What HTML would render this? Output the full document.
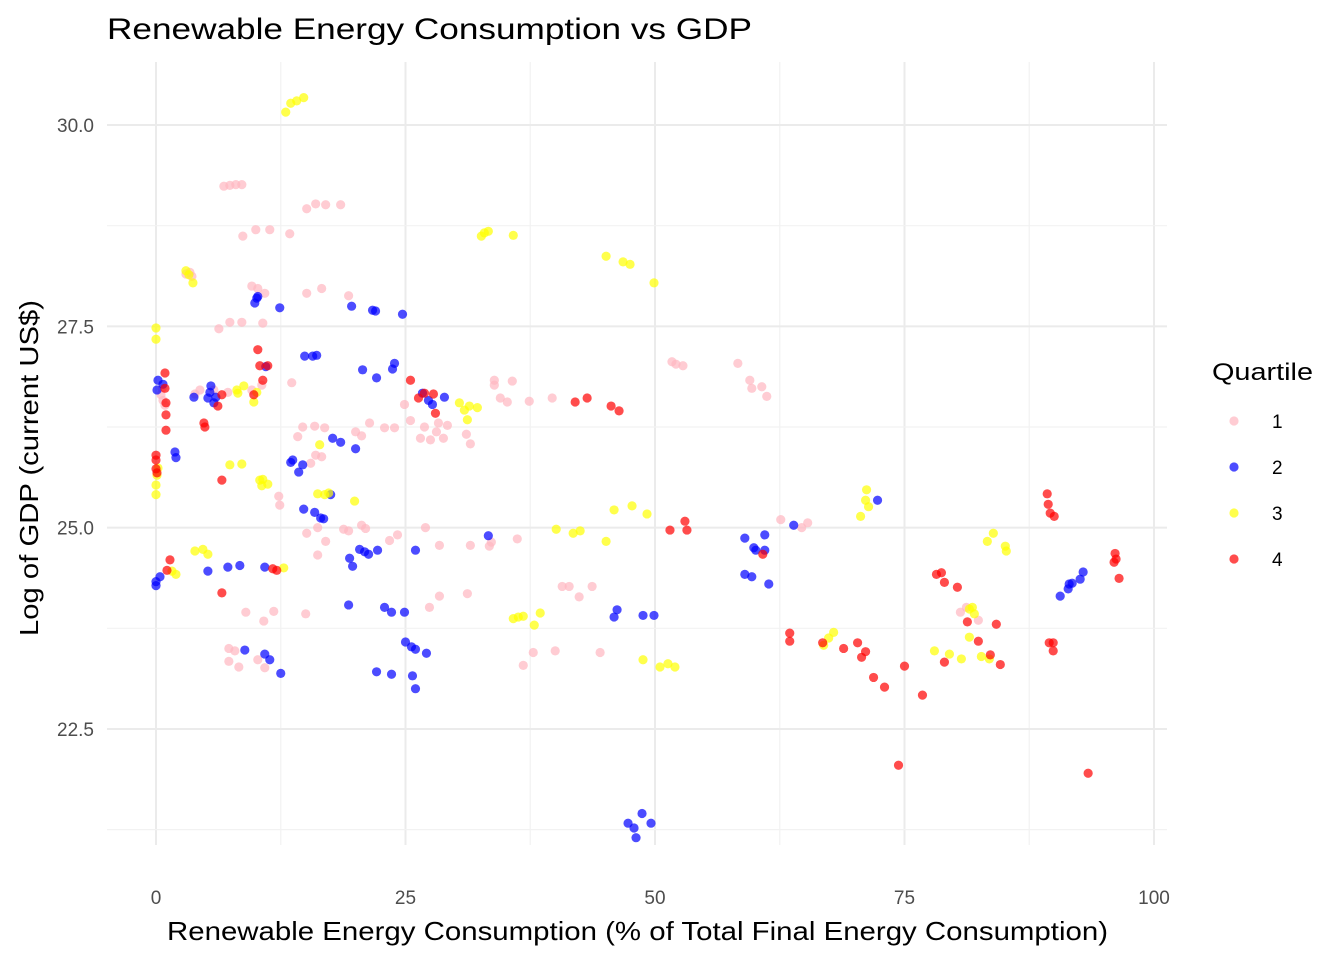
<!DOCTYPE html>
<html><head><meta charset="utf-8"><style>
body{margin:0;background:#fff;}
svg text{font-family:"Liberation Sans",Arial,sans-serif;}
</style></head><body>
<svg id="chart" width="1344" height="960">
<text x="107" y="39" font-size="30" textLength="645" lengthAdjust="spacingAndGlyphs" fill="#000">Renewable Energy Consumption vs GDP</text>
<g id="grid"></g>
<g id="points"></g>
<g id="axes"></g>
<text x="167" y="940" font-size="26" textLength="941" lengthAdjust="spacingAndGlyphs" fill="#000">Renewable Energy Consumption (% of Total Final Energy Consumption)</text>
<text transform="translate(38,636) rotate(-90)" font-size="26" textLength="336" lengthAdjust="spacingAndGlyphs" fill="#000">Log of GDP (current US$)</text>
<g id="legend"></g>
</svg>
<script>
const xTicks=[0,25,50,75,100];
const yTicks=[22.5,25,27.5,30];
const quartiles=["1","2","3","4"];
const colors=["#FFB6C1","#0000FF","#FFFF00","#FF0000"];
const q1x=[6.8,7.4,8,8.6,15.1,16,17,18.5,8.7,10,11.4,13.4,3,3.4,3.6,9.6,10.2,10.9,15.1,16.6,19.3,6.3,7.4,8.6,10.7,0.5,0.7,0.9,0.6,3.9,4.4,5.8,7.2,10.6,13.6,9.6,14.2,14.7,15.9,16.9,16,16.6,15.5,20,20.6,21.4,22.9,23.9,26.5,25.5,24.9,26.9,28.1,28.8,27.5,31.5,31.1,28.3,29.2,33.9,33.9,34.5,35.2,35.7,37.4,39.7,51.7,52.1,52.8,58.3,59.5,59.7,60.7,61.2,12.3,12.4,15.1,16.2,17,16.2,18.8,19.3,20.6,21,23.4,24.2,27,28.4,31.5,33.6,33.4,36.2,62.6,64.7,65.3,80.6,81.2,82.4,9,11.8,10.8,15,27.4,28.4,31.2,40.7,41.4,42.4,43.7,40,36.8,37.8,44.5,7.3,7.9,7.3,8.3,10.2,10.9];
const q1y=[29.24,29.25,29.26,29.26,28.96,29.02,29.01,29.01,28.62,28.7,28.7,28.65,28.15,28.17,28.12,28,27.97,27.91,27.91,27.97,27.88,27.47,27.55,27.55,27.54,26.65,26.58,26.52,26.73,26.66,26.71,26.71,26.68,26.77,26.8,26.71,26.13,26.25,26.26,26.24,25.9,25.88,25.8,26.19,26.14,26.3,26.24,26.24,26.11,26.33,26.53,26.25,26.19,26.11,26.09,26.04,26.16,26.3,26.27,26.77,26.83,26.61,26.56,26.82,26.57,26.61,27.06,27.03,27.01,27.04,26.83,26.73,26.75,26.63,25.39,25.28,24.93,25,24.83,24.66,24.98,24.96,25.03,24.99,24.84,24.91,25,24.78,24.78,24.82,24.77,24.86,25.1,25,25.06,23.95,24.01,23.85,23.95,23.96,23.84,23.93,24.01,24.15,24.18,24.27,24.27,24.14,24.27,23.47,23.29,23.45,23.45,23.5,23.47,23.34,23.27,23.36,23.26];
const q2x=[0.2,0.7,0.1,3.8,5.4,5.2,5.8,6,5.5,9.9,10.1,10.2,12.4,11,1.9,2,13.5,13.7,14.7,14.3,14.9,15.7,16.1,19.6,21.7,22,24.7,20.7,22.1,23.7,23.9,17.7,18.5,20,14.8,15.9,16.5,16.8,17.5,26.7,27.3,27.7,28.9,0.4,0,0,5.2,7.2,8.4,10.9,19.4,19.7,20.4,20.9,21.3,22.2,26,33.3,19.3,22.9,23.6,24.9,45.9,46.2,48.8,49.9,8.9,10.9,11.4,12.5,22.1,23.6,25,25.6,26,25.7,26,27.1,47.3,47.9,48.1,48.7,49.6,59,59.9,60.1,61,61,61.4,59,59.7,63.9,72.3,90.6,91.4,91.8,92.6,92.9,91.5];
const q2y=[26.83,26.78,26.71,26.62,26.68,26.61,26.55,26.62,26.76,27.79,27.85,27.87,27.73,27,25.94,25.87,25.81,25.84,25.78,25.69,27.13,27.13,27.14,27.75,27.7,27.69,27.65,26.96,26.86,26.97,27.04,26.11,26.06,25.98,25.23,25.19,25.12,25.11,25.41,26.67,26.58,26.53,26.62,24.39,24.33,24.28,24.46,24.51,24.53,24.51,24.62,24.52,24.73,24.7,24.67,24.72,24.72,24.9,24.04,24.01,23.95,23.95,23.89,23.98,23.91,23.91,23.48,23.43,23.36,23.19,23.21,23.18,23.58,23.52,23.49,23.16,23,23.44,21.33,21.27,21.15,21.45,21.33,24.87,24.75,24.72,24.72,24.91,24.3,24.42,24.39,25.03,25.34,24.15,24.24,24.31,24.36,24.45,24.3];
const q3x=[13,13.5,14.1,14.8,32.6,32.9,33.3,35.8,45.1,46.8,47.5,49.9,3,3.3,3.7,0,0,0.1,0,0,0.2,7.4,8.6,10.4,10.6,11.2,10.7,8.1,8.8,8.2,9.8,10.1,16.4,16.2,16.9,17.3,19.9,30.4,30.9,31.4,32.2,31.2,3.9,4.7,5.2,1.6,2,12.8,40.1,41.8,42.5,45.1,45.9,47.7,49.2,35.8,36.3,36.8,37.9,38.5,48.8,50.5,51.3,52,66.9,67.4,67.9,70.6,71.1,71.4,71.2,78,79.5,80.7,81.5,81.8,82,81.5,82.7,83.5,83.3,83.9,85.1,85.2];
const q3y=[30.16,30.27,30.3,30.34,28.62,28.66,28.68,28.63,28.37,28.3,28.27,28.04,28.19,28.14,28.04,27.48,27.34,25.65,25.53,25.41,25.74,25.78,25.79,25.59,25.52,25.54,25.6,26.71,26.76,26.67,26.56,26.68,26.03,25.42,25.41,25.43,25.33,26.55,26.46,26.51,26.49,26.34,24.71,24.73,24.67,24.46,24.42,24.5,24.98,24.93,24.96,24.83,25.22,25.27,25.17,23.87,23.89,23.9,23.79,23.94,23.36,23.27,23.31,23.27,23.54,23.63,23.7,25.14,25.34,25.26,25.47,23.47,23.43,23.37,23.99,24.01,23.93,23.64,23.4,23.37,24.83,24.93,24.77,24.71];
const q4x=[0,0,0,0.1,0.9,0.9,1,1,1,1.4,1.1,4.8,4.9,6.2,6.6,6.6,6.6,10.2,10.4,10.7,9.8,11.2,11.7,12.1,25.5,26.3,26.9,27.8,28,42,43.2,45.6,46.4,51.5,53,53.2,60.8,63.5,63.5,66.8,68.9,70.3,70.7,71.1,71.9,73,75,76.8,74.4,78.2,78.7,79,80.3,81.3,82.4,83.6,84.2,84.6,79,89.3,89.4,89.6,90,89.5,89.9,89.9,96.1,96.2,96.0,96.5,93.4];
const q4y=[25.9,25.84,25.73,25.68,26.92,26.73,26.55,26.21,26.4,24.6,24.47,26.3,26.25,26.51,26.65,25.59,24.19,27.21,27.01,26.83,26.65,27.01,24.49,24.47,26.83,26.61,26.67,26.66,26.42,26.56,26.61,26.51,26.45,24.97,25.08,24.97,24.67,23.69,23.59,23.57,23.5,23.57,23.39,23.46,23.14,23.02,23.28,22.92,22.05,24.42,24.44,24.32,24.26,23.83,23.59,23.42,23.8,23.3,23.33,25.42,25.29,25.18,25.14,23.57,23.57,23.47,24.68,24.61,24.57,24.37,21.95];
const series=[[q1x,q1y],[q2x,q2y],[q3x,q3y],[q4x,q4y]];
const NS="http://www.w3.org/2000/svg";
const X0=107,X1=1167,Y0=62,Y1=845;
function sx(v){return 156+v*9.98;}
function sy(v){return 125+(30-v)*80.53;}
function mk(t,a,p){const e=document.createElementNS(NS,t);for(const k in a)e.setAttribute(k,a[k]);p.appendChild(e);return e;}
const grid=document.getElementById('grid'),axes=document.getElementById('axes');
for(let i=0;i<xTicks.length;i++){
 const v=xTicks[i];
 const l=mk('line',{x1:sx(v),x2:sx(v),y1:Y0,y2:Y1,stroke:'#ebebeb','stroke-width':2},grid);
 
 
 if(i<xTicks.length-1){const m=(v+xTicks[i+1])/2;
  const ml=mk('line',{x1:sx(m),x2:sx(m),y1:Y0,y2:Y1,stroke:'#f2f2f2','stroke-width':1.2},grid);
  
  }
 const t=mk('text',{x:sx(v),y:904,'font-size':19,'text-anchor':'middle',fill:'#4d4d4d'},axes);
 t.textContent=v;
 
 
}
const yMinor=[21.25,23.75,26.25,28.75];
yMinor.forEach(m=>{const ml=mk('line',{x1:X0,x2:X1,y1:sy(m),y2:sy(m),stroke:'#f2f2f2','stroke-width':1.2},grid);
 
 });
yTicks.forEach(v=>{
 const l=mk('line',{x1:X0,x2:X1,y1:sy(v),y2:sy(v),stroke:'#ebebeb','stroke-width':2},grid);
 
 
 const t=mk('text',{x:94,y:sy(v)+7,'font-size':19,'text-anchor':'end',fill:'#4d4d4d'},axes);
 t.textContent=v.toFixed(1);
 
 
});
const pts=document.getElementById('points');
series.forEach((s,k)=>{
 for(let i=0;i<s[0].length;i++){
  const c=mk('circle',{cx:sx(s[0][i]),cy:sy(s[1][i]),r:4.6,fill:colors[k],'fill-opacity':0.7},pts);
  
  
 }
});
const lg=document.getElementById('legend');
const lt=mk('text',{x:1212,y:380,'font-size':24,textLength:101,lengthAdjust:'spacingAndGlyphs',fill:'#000'},lg);
lt.textContent='Quartile';


quartiles.forEach((q,k)=>{
 const y=421+k*46;
 const c=mk('circle',{cx:1234,cy:y,r:4.6,fill:colors[k],'fill-opacity':0.7},lg);
 
 
 const t=mk('text',{x:1272,y:y+7,'font-size':19,fill:'#000'},lg);
 t.textContent=q;
 
 
});
</script>
</body></html>
